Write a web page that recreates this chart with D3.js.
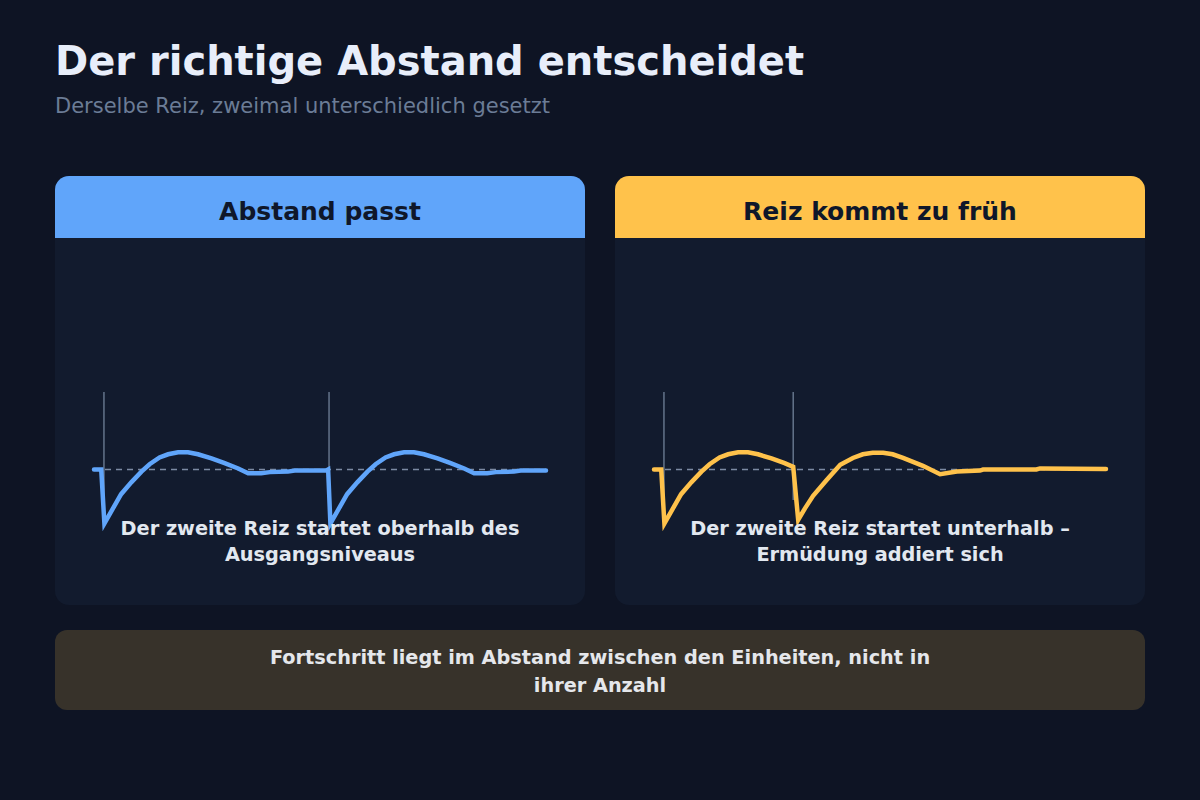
<!DOCTYPE html>
<html>
<head>
<meta charset="utf-8">
<script src="https://cdn.jsdelivr.net/npm/d3@7"></script>
<style>
  html, body { margin: 0; padding: 0; background: #0e1424; }
  svg { display: block; font-family: "DejaVu Sans", sans-serif; }
</style>
</head>
<body>
<svg id="chart" width="1200" height="800"></svg>
<script>
// ---- Data ----
const titleText = "Der richtige Abstand entscheidet";
const subtitleText = "Derselbe Reiz, zweimal unterschiedlich gesetzt";
const panelTitles = ["Abstand passt", "Reiz kommt zu früh"];
const panelColors = ["#60a5fa", "#ffc24b"];
const panelNotes = [
  ["Der zweite Reiz startet oberhalb des", "Ausgangsniveaus"],
  ["Der zweite Reiz startet unterhalb –", "Ermüdung addiert sich"]
];
const footerLines = ["Fortschritt liegt im Abstand zwischen den Einheiten, nicht in", "ihrer Anzahl"];

// stimulus times (arbitrary time units 0..100)
const stimuliGood = [2.2, 52.0];
const stimuliEarly = [2.2, 30.8];

// response curve, panel 1 (time, level relative to baseline)
const goodT = [0, 1.6, 2.3, 4.2, 6.0, 8.3, 10.5, 12.3, 14.5, 16.4, 18.6, 20.8, 23.0, 26.0, 28.9, 31.9, 34.1, 37.0, 38.9, 42.9, 44.4, 51.4,
               51.8, 52.3, 54.2, 56.0, 58.3, 60.5, 62.3, 64.5, 66.4, 68.6, 70.8, 73.0, 76.0, 78.9, 81.9, 84.1, 87.0, 88.9, 92.9, 94.4, 100];
const goodV = [0, 0, -1.03, -0.74, -0.47, -0.24, -0.04, 0.10, 0.23, 0.29, 0.33, 0.33, 0.29, 0.21, 0.12, 0.02, -0.07, -0.07, -0.05, -0.04, -0.02, -0.02,
               0, -1.03, -0.74, -0.47, -0.24, -0.04, 0.10, 0.23, 0.29, 0.33, 0.33, 0.29, 0.21, 0.12, 0.02, -0.07, -0.07, -0.05, -0.04, -0.02, -0.02];

// response curve, panel 2
const earlyT = [0, 1.6, 2.3, 4.2, 6.0, 8.3, 10.5, 12.3, 14.5, 16.4, 18.6, 20.8, 23.0, 26.0, 28.9, 30.8,
                31.9, 33.4, 35.2, 38.2, 41.2, 44.0, 46.2, 48.4, 50.7, 52.8, 55.1, 59.5, 63.3, 67.0, 72.1, 72.8, 84.6, 85.4, 100];
const earlyV = [0, 0, -1.03, -0.74, -0.47, -0.24, -0.04, 0.10, 0.23, 0.29, 0.33, 0.33, 0.29, 0.21, 0.12, 0.05,
                -0.96, -0.74, -0.5, -0.20, 0.09, 0.22, 0.29, 0.32, 0.32, 0.29, 0.22, 0.07, -0.09, -0.04, -0.02, 0.0, 0.0, 0.02, 0.01];

const series = [
  { t: goodT, v: goodV, stim: stimuliGood },
  { t: earlyT, v: earlyV, stim: stimuliEarly }
];

// ---- Drawing ----
const svg = d3.select("#chart");
svg.append("rect").attr("width", 1200).attr("height", 800).attr("fill", "#0e1424");

svg.append("text").attr("x", 55).attr("y", 75)
  .attr("font-size", 40).attr("font-weight", "bold").attr("fill", "#e8eefa")
  .text(titleText);
svg.append("text").attr("x", 55).attr("y", 113)
  .attr("font-size", 21).attr("fill", "#6b7c96")
  .text(subtitleText);

const panelW = 530, panelH = 429, panelY = 176, headerH = 62;
const panelX = [55, 615];
const defs = svg.append("defs");

panelX.forEach((px, i) => {
  const g = svg.append("g").attr("transform", `translate(${px},${panelY})`);
  const clipId = "clip" + i;
  defs.append("clipPath").attr("id", clipId)
    .append("rect").attr("width", panelW).attr("height", panelH).attr("rx", 14).attr("ry", 14);
  const inner = g.append("g").attr("clip-path", `url(#${clipId})`);
  inner.append("rect").attr("width", panelW).attr("height", panelH).attr("fill", "#121b2e");
  inner.append("rect").attr("width", panelW).attr("height", headerH).attr("fill", panelColors[i]);
  g.append("text").attr("x", panelW / 2).attr("y", 44)
    .attr("text-anchor", "middle").attr("font-size", 25).attr("font-weight", "bold")
    .attr("fill", "#0f172a").text(panelTitles[i]);

  const x = d3.scaleLinear().domain([0, 100]).range([39, 491]);
  const y = d3.scaleLinear().domain([-1, 1]).range([346, 241]);
  const s = series[i];

  // baseline
  g.append("line").attr("x1", x(0)).attr("x2", x(100)).attr("y1", y(0)).attr("y2", y(0))
    .attr("stroke", "#7c8aa3").attr("stroke-width", 1.5).attr("stroke-dasharray", "6,5");
  // stimulus markers
  g.selectAll(".stim").data(s.stim).enter().append("line")
    .attr("x1", d => x(d)).attr("x2", d => x(d))
    .attr("y1", 216).attr("y2", 324)
    .attr("stroke", "#64748b").attr("stroke-width", 1.5);

  const pts = s.t.map((t, k) => [t, s.v[k]]);
  const line = d3.line().x(d => x(d[0])).y(d => y(d[1]));
  g.append("path").datum(pts).attr("d", line)
    .attr("fill", "none").attr("stroke", panelColors[i]).attr("stroke-width", 4.5)
    .attr("stroke-linejoin", "miter").attr("stroke-miterlimit", 10).attr("stroke-linecap", "round");

  g.selectAll(".note").data(panelNotes[i]).enter().append("text")
    .attr("x", panelW / 2).attr("y", (d, k) => 359 + k * 26)
    .attr("text-anchor", "middle").attr("font-size", 19.3).attr("font-weight", "bold")
    .attr("fill", "#e2e8f0").text(d => d);
});

// footer
svg.append("rect").attr("x", 55).attr("y", 630).attr("width", 1090).attr("height", 80)
  .attr("rx", 12).attr("ry", 12).attr("fill", "#37322a");
svg.selectAll(".foot").data(footerLines).enter().append("text")
  .attr("x", 600).attr("y", (d, k) => 664 + k * 28)
  .attr("text-anchor", "middle").attr("font-size", 19.3).attr("font-weight", "bold")
  .attr("fill", "#e5e7eb").text(d => d);
</script>
</body>
</html>
